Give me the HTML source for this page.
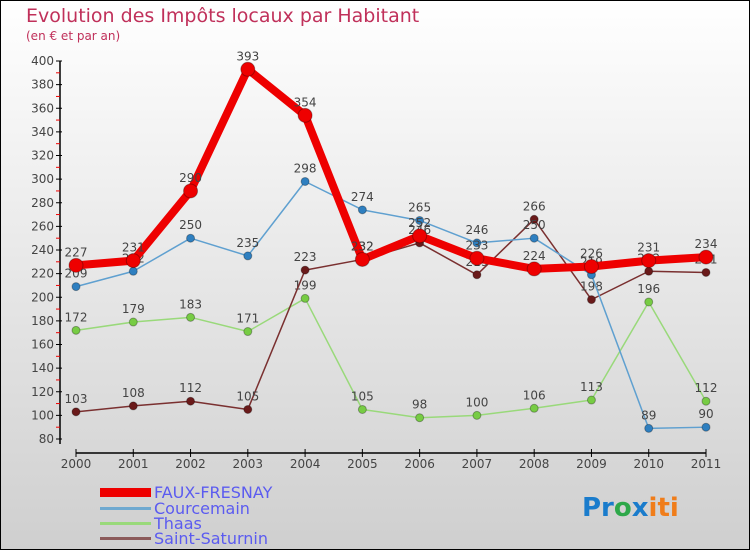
<!DOCTYPE html>
<html><head><meta charset="utf-8"><style>
body{margin:0;}
svg text{font-family:"DejaVu Sans","Liberation Sans",sans-serif;}
</style></head><body>
<svg id="chart" width="750" height="550" xmlns="http://www.w3.org/2000/svg">
<defs><linearGradient id="bg" x1="0" y1="0" x2="0" y2="1"><stop offset="0" stop-color="#ffffff"/><stop offset="1" stop-color="#cfcfcf"/></linearGradient></defs>
<rect x="0.5" y="0.5" width="749" height="549" fill="url(#bg)" stroke="#000"/>
<text x="26" y="22" font-size="19" fill="#c0305a" font-family="Liberation Sans">Evolution des Impôts locaux par Habitant</text>
<text x="26" y="40" font-size="12" fill="#c0305a" font-family="Liberation Sans">(en € et par an)</text>
<g id="axes"></g>
<g id="series"></g>
<g font-family="Liberation Sans" font-size="16" fill="#5b5bf0">
<rect x="100" y="488" width="51" height="9" fill="#e00"/>
<text x="154" y="498">FAUX-FRESNAY</text>
<rect x="100" y="507" width="51" height="3" fill="#6fa9d0"/>
<text x="154" y="514">Courcemain</text>
<rect x="100" y="522" width="51" height="3" fill="#99d97a"/>
<text x="154" y="529">Thaas</text>
<rect x="100" y="537" width="51" height="3" fill="#8b5a5a"/>
<text x="154" y="544">Saint-Saturnin</text>
</g>
<g font-family="DejaVu Sans" font-size="26" font-weight="bold">
<text x="582" y="516"><tspan fill="#1a7ccc">Pr</tspan><tspan fill="#2ea84a">o</tspan><tspan fill="#1a7ccc">x</tspan><tspan fill="#f07d1a">iti</tspan></text>
</g>
</svg>
<script>
const years=["2000","2001","2002","2003","2004","2005","2006","2007","2008","2009","2010","2011"];
const yTicks=[80,100,120,140,160,180,200,220,240,260,280,300,320,340,360,380,400];
const fauxFresnay=[227,231,290,393,354,232,252,233,224,226,231,234];
const courcemain=[209,222,250,235,298,274,265,246,250,219,89,90];
const thaas=[172,179,183,171,199,105,98,100,106,113,196,112];
const saintSaturnin=[103,108,112,105,223,232,246,219,266,198,222,221];
const NS="http://www.w3.org/2000/svg";
const X0=76,X1=706,Y0=439,Y1=61,VMIN=80,VMAX=400;
function xs(i){return X0+(X1-X0)*i/(years.length-1);}
function ys(v){return Y0-(v-VMIN)/(VMAX-VMIN)*(Y0-Y1);}
function mk(tag,attrs,parent){const e=document.createElementNS(NS,tag);for(const k in attrs)e.setAttribute(k,attrs[k]);parent.appendChild(e);return e;}
const axes=document.getElementById('axes');
let yl=mk('line',{x1:60,y1:Y1,x2:60,y2:Y0+5,stroke:'#000','stroke-width':1.5},axes);


let xl=mk('line',{x1:X0,y1:453,x2:X1,y2:453,stroke:'#000','stroke-width':1.5},axes);


yTicks.forEach((v,i)=>{
  const y=ys(v);
  mk('line',{x1:56,y1:y,x2:62,y2:y,stroke:'#000'},axes);
  if(i<yTicks.length-1){mk('line',{x1:56,y1:ys(v+10),x2:60,y2:ys(v+10),stroke:'#e00'},axes);}
  const t=mk('text',{x:54,y:y+4,'font-size':12,fill:'#444','text-anchor':'end'},axes);
  
  
  t.textContent=v;
});
years.forEach((yr,i)=>{
  const x=xs(i);
  mk('line',{x1:x,y1:449,x2:x,y2:457,stroke:'#000'},axes);
  const t=mk('text',{x:x,y:468,'font-size':12,fill:'#444','text-anchor':'middle'},axes);
  
  
  t.textContent=yr;
});
const ser=document.getElementById('series');
function draw(vals,name,color,dot,w,r){
  const g=mk('g',{},ser);
  
  
  const pts=vals.map((v,i)=>xs(i)+','+ys(v)).join(' ');
  const pl=mk('polyline',{points:pts,fill:'none',stroke:color,'stroke-width':w,'stroke-linejoin':'round'},g);
  
  
  vals.forEach((v,i)=>{
    const c=mk('circle',{cx:xs(i),cy:ys(v),r:r,fill:dot,stroke:'rgba(0,0,0,0.3)'},g);
    
    
    const t=mk('text',{x:xs(i),y:ys(v)-9,'font-size':12,fill:'#444','text-anchor':'middle'},g);
    
    
    t.textContent=v;
  });
}
draw(thaas,'thaas','#99d97a','#77cc44',1.5,4);
draw(saintSaturnin,'saint-saturnin','#7a3030','#6a1a1a',1.5,4);
draw(courcemain,'courcemain','#5fa0d0','#2e7fc0',1.5,4);
draw(fauxFresnay,'faux-fresnay','#ee0000','#ee0000',8,7);
</script>
</body></html>
